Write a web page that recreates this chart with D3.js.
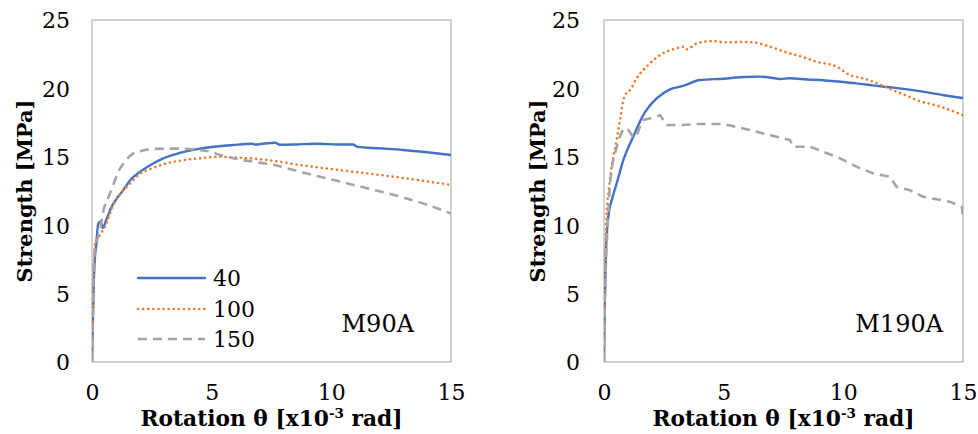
<!DOCTYPE html>
<html>
<head>
<meta charset="utf-8">
<script src="https://cdn.jsdelivr.net/npm/d3@7"></script>
<style>
  html, body { margin: 0; padding: 0; background: #fff; }
  svg { display: block; }
  text { font-family: "DejaVu Serif", "Liberation Serif", serif; fill: #000; }
</style>
</head>
<body>
<svg id="chart" width="978" height="434"></svg>
<script>
// Axis ticks
const xTicks = [0, 5, 10, 15];
const yTicks = [0, 5, 10, 15, 20, 25];

// Legend entries (loading rate)
const seriesNames = ["40", "100", "150"];

// M90A: [rotation (x10^-3 rad), strength (MPa)]
const m90a_40 = [[0,0],[0.03,2.5],[0.07,5.5],[0.12,7.6],[0.17,8.4],[0.26,10.1],[0.36,10.28],[0.45,9.8],[0.6,10.4],[0.82,11.35],[1.05,12.0],[1.31,12.57],[1.6,13.3],[2.0,13.9],[2.5,14.45],[3.0,14.9],[3.7,15.3],[4.5,15.6],[5.2,15.75],[5.9,15.86],[6.7,15.95],[6.8,15.9],[7.2,15.97],[7.65,16.03],[7.85,15.88],[8.5,15.9],[9.4,15.95],[10.3,15.9],[10.9,15.9],[11.1,15.73],[12.0,15.62],[13.0,15.5],[14.0,15.33],[15.0,15.13]];
const m90a_100 = [[0,0],[0.03,3],[0.07,6.5],[0.13,8.67],[0.33,9.28],[0.54,9.9],[0.89,11.48],[1.31,12.57],[1.45,12.8],[2.0,13.74],[2.5,14.15],[3.12,14.52],[3.8,14.75],[4.51,14.89],[5.35,15.0],[6.0,14.95],[6.6,14.89],[7.6,14.7],[8.69,14.4],[10.0,14.1],[11.48,13.79],[13.2,13.4],[15.0,12.94]];
const m90a_150 = [[0,0],[0.04,4],[0.08,7.5],[0.2,8.8],[0.35,9.8],[0.47,11.0],[0.7,12.1],[0.89,12.94],[1.1,13.9],[1.4,14.7],[1.73,15.25],[2.1,15.45],[2.4,15.55],[3.0,15.6],[3.7,15.6],[4.4,15.5],[4.9,15.4],[5.35,15.13],[5.9,14.9],[6.7,14.65],[7.6,14.4],[8.8,13.85],[10.1,13.3],[11.5,12.7],[12.9,12.08],[14.0,11.5],[15.0,10.85]];

// M190A: [rotation (x10^-3 rad), strength (MPa)]
const m190a_40 = [[0,0],[0.03,4],[0.08,8],[0.18,10.6],[0.35,12.0],[0.53,13.06],[0.81,14.77],[1.22,16.47],[1.64,18.05],[2.2,19.27],[2.76,19.93],[3.31,20.18],[4.01,20.61],[4.98,20.71],[5.82,20.83],[6.5,20.86],[7.0,20.78],[7.35,20.69],[7.77,20.74],[8.5,20.65],[9.16,20.6],[9.8,20.5],[10.55,20.37],[11.24,20.22],[11.94,20.08],[12.6,19.95],[13.33,19.76],[14.2,19.5],[15.0,19.3]];
const m190a_100 = [[0,0],[0.03,4],[0.06,8],[0.1,10.6],[0.2,12.6],[0.32,14.28],[0.53,16.23],[0.68,17.8],[0.81,19.15],[0.95,19.7],[1.09,19.88],[1.36,20.74],[1.78,21.59],[2.34,22.44],[3.03,22.93],[3.31,23.05],[3.45,22.85],[3.87,23.29],[4.56,23.46],[4.98,23.37],[5.82,23.39],[6.23,23.37],[6.93,23.05],[7.77,22.56],[8.3,22.3],[8.88,21.95],[9.72,21.59],[10.27,20.98],[10.8,20.75],[11.24,20.49],[12.22,19.76],[12.6,19.5],[13.05,19.15],[14.0,18.7],[15.0,18.05]];
const m190a_150 = [[0,0],[0.04,5],[0.1,8.19],[0.18,11],[0.25,13.06],[0.35,14.5],[0.46,15.25],[0.62,16.3],[0.81,17.08],[1.0,17.0],[1.2,16.5],[1.36,16.47],[1.5,17.2],[1.64,17.69],[2.2,17.93],[2.34,18.05],[2.62,17.32],[3.31,17.32],[3.87,17.4],[4.98,17.4],[5.5,17.2],[6.09,16.96],[7.21,16.47],[7.77,16.23],[7.91,15.74],[8.6,15.74],[9.16,15.37],[9.86,14.89],[10.55,14.28],[11.24,13.79],[11.94,13.55],[12.22,12.81],[12.77,12.57],[13.33,12.08],[14.44,11.72],[14.95,11.35],[15.0,10.75]];

const styles = [
  { color: "#4472C4", width: 2.4, dash: null, cap: "round" },
  { color: "#ED7D31", width: 2.6, dash: "0.1 5", cap: "round" },
  { color: "#A5A5A5", width: 2.6, dash: "9 6", cap: "butt" }
];

const panels = [
  { name: "M90A", series: [m90a_40, m90a_100, m90a_150], left: 92, right: 451,
    yTitleX: 24, tickRight: 70, legend: true, labelEnd: 414, curves: [d3.curveMonotoneX, d3.curveMonotoneX, d3.curveMonotoneX] },
  { name: "M190A", series: [m190a_40, m190a_100, m190a_150], left: 604, right: 963,
    yTitleX: 537, tickRight: 580, legend: false, labelEnd: 943, curves: [d3.curveMonotoneX, d3.curveMonotoneX, d3.curveLinear] }
];

const plotTop = 20, plotBottom = 362;
const svg = d3.select("#chart");

function fitWidth(sel, target) {
  const fs = parseFloat(sel.attr("font-size"));
  const w = sel.node().getComputedTextLength();
  sel.attr("font-size", (fs * target / w).toFixed(2));
}

panels.forEach((p, pi) => {
  const x = d3.scaleLinear().domain([0, 15]).range([p.left, p.right]);
  const y = d3.scaleLinear().domain([0, 25]).range([plotBottom, plotTop]);
  const g = svg.append("g");

  const clipId = "clip" + pi;
  g.append("clipPath").attr("id", clipId)
    .append("rect").attr("x", p.left).attr("y", plotTop)
    .attr("width", p.right - p.left).attr("height", plotBottom - plotTop);

  // plot-area frame
  g.append("rect")
    .attr("x", p.left).attr("y", plotTop)
    .attr("width", p.right - p.left).attr("height", plotBottom - plotTop)
    .attr("fill", "none").attr("stroke", "#BFBFBF").attr("stroke-width", 1.4);

  // y axis labels
  const yAxis = d3.axisLeft(y).tickValues(yTicks).tickSize(0).tickPadding(0);
  const ya = g.append("g").attr("transform", `translate(${p.tickRight},0)`).call(yAxis);
  ya.select(".domain").remove();
  ya.selectAll("text").attr("font-size", 22).attr("font-family", "DejaVu Serif").attr("fill", "#000").attr("dy", "0.36em");

  // x axis labels
  const xAxis = d3.axisBottom(x).tickValues(xTicks).tickSize(0).tickPadding(0);
  const xa = g.append("g").attr("transform", `translate(0,${plotBottom})`).call(xAxis);
  xa.select(".domain").remove();
  xa.selectAll("text").attr("font-size", 22).attr("font-family", "DejaVu Serif").attr("fill", "#000").attr("y", 38).attr("dy", 0);

  // series
  p.series.forEach((data, si) => {
    const st = styles[si];
    const line = d3.line().x(d => x(d[0])).y(d => y(d[1])).curve(p.curves[si]);
    g.append("path").datum(data)
      .attr("clip-path", `url(#${clipId})`)
      .attr("d", line)
      .attr("fill", "none")
      .attr("stroke", st.color)
      .attr("stroke-width", st.width)
      .attr("stroke-linecap", st.cap)
      .attr("stroke-linejoin", "round")
      .attr("stroke-dasharray", st.dash);
  });

  // panel label
  g.append("text").attr("x", p.labelEnd).attr("y", 332)
    .attr("text-anchor", "end").attr("font-size", 24).text(p.name);

  // x axis title
  const xt = g.append("text").attr("x", (p.left + p.right) / 2).attr("y", 426)
    .attr("text-anchor", "middle").attr("font-weight", "bold").attr("font-size", 20);
  xt.append("tspan").text("Rotation θ [x10");
  xt.append("tspan").attr("font-size", "0.62em").attr("dy", "-0.62em").text("-3");
  xt.append("tspan").attr("dy", "0.385em").text(" rad]");
  fitWidth(xt, 262);

  // y axis title
  const yt = g.append("text")
    .attr("transform", `translate(${p.yTitleX},${(plotTop + plotBottom) / 2}) rotate(-90)`)
    .attr("text-anchor", "middle").attr("dy", "0.36em")
    .attr("font-weight", "bold").attr("font-size", 20).text("Strength [MPa]");
  fitWidth(yt, 183);

  // legend
  if (p.legend) {
    const ly = [278, 309, 339];
    seriesNames.forEach((n, i) => {
      const st = styles[i];
      g.append("line").attr("x1", 138).attr("x2", 205).attr("y1", ly[i]).attr("y2", ly[i])
        .attr("stroke", st.color).attr("stroke-width", st.width)
        .attr("stroke-linecap", st.cap).attr("stroke-dasharray", st.dash);
      g.append("text").attr("x", 213).attr("y", ly[i]).attr("dy", "0.36em")
        .attr("font-size", 22).text(n);
    });
  }
});
</script>
</body>
</html>
